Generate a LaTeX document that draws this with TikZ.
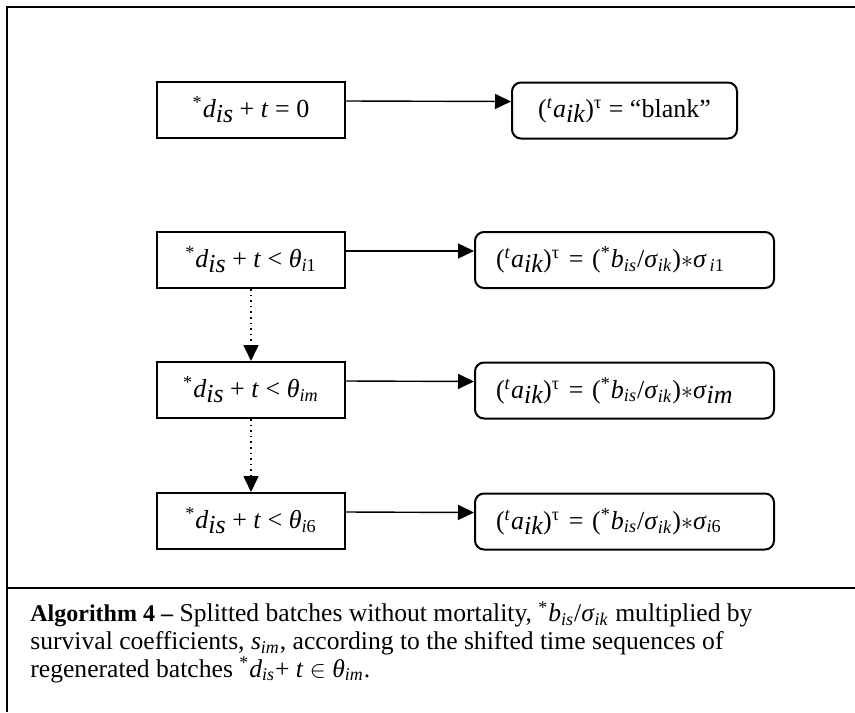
\documentclass[tikz,border=0pt]{standalone}
\usepackage{fontspec}
\setmainfont{Liberation Serif}
\usetikzlibrary{arrows.meta}
\newcommand{\Lsub}[1]{\raisebox{-0.45ex}{\textit{#1}}}
\newcommand{\ssub}[1]{\textsubscript{\textit{#1}}}
\newcommand{\ssup}[1]{\textsuperscript{#1}}
\newcommand{\lhs}{\ssup{*}\textit{d}\Lsub{is} + \textit{t}}
\newcommand{\aik}{(\ssup{\textit{t}}\textit{a}\Lsub{ik})\ssup{τ}}
\newcommand{\bsig}{(\ssup{*}\textit{b}\ssub{is}/\textit{σ}\ssub{ik})$\ast$\textit{σ}}
\begin{document}
\begin{tikzpicture}[x=0.5pt,y=-0.5pt,
  boxfont/.style={font=\fontsize{13}{15}\selectfont},
  cond/.style={draw,line width=1pt,minimum width=94pt,minimum height=28pt,inner sep=0pt,boxfont},
  res/.style={draw,line width=1pt,rounded corners=4.5pt,minimum height=28pt,inner sep=0pt,boxfont},
  reswide/.style={res,text width=128.5pt,inner xsep=10.5pt,align=left},
  arr/.style={line width=0.7pt,-{Triangle[length=8pt,width=7.5pt]}},
  darr/.style={line width=0.8pt,dotted,-{Triangle[length=8pt,width=7.5pt]}}]
\useasboundingbox (0,0) rectangle (855,712);
% frame
\draw[line width=1pt] (7,712) -- (7,7) -- (855,7);
\draw[line width=1pt] (7,588) -- (855,588);
% row 1
\node[cond] (r1) at (251,110) {\lhs{} = 0};
\node[res,minimum width=112.5pt] (q1) at (624.5,110.5) {\aik{} = “blank”};
% row 2
\node[cond] (r2) at (251,260) {\lhs{} < \textit{θ}\textsubscript{\textit{i}1}};
\node[reswide] (q2) at (624.5,260) {\aik{} = \bsig\textsubscript{\,\textit{i}1}};
% row 3
\node[cond] (r3) at (251,390) {\lhs{} < \textit{θ}\ssub{im}};
\node[reswide] (q3) at (624.5,390.5) {\aik{} = \bsig\Lsub{im}};
% row 4
\node[cond] (r4) at (251,521) {\lhs{} < \textit{θ}\textsubscript{\textit{i}6}};
\node[reswide] (q4) at (624.5,521.5) {\aik{} = \bsig\textsubscript{\textit{i}6}};
% connectors
\draw[arr] ([yshift=4.5pt]r1.east) -- ([yshift=4.5pt]q1.west);
\draw[arr] ([yshift=4.5pt]r2.east) -- ([yshift=4.5pt]q2.west);
\draw[arr] ([yshift=4.5pt]r3.east) -- ([yshift=4.5pt]q3.west);
\draw[arr] ([yshift=4.5pt]r4.east) -- ([yshift=4.5pt]q4.west);
\draw[darr] (r2.south) -- (r3.north);
\draw[darr] (r3.south) -- (r4.north);
% caption
\node[anchor=base west,align=left,inner sep=0pt,font=\fontsize{12.8}{13.8}\selectfont] (cap) at (30,677)
{{\fontsize{12}{13.8}\selectfont\textbf{Algorithm 4 –}} Splitted batches without mortality, \ssup{*}\textit{b}\ssub{is}/\textit{σ}\ssub{ik} multiplied by\\
survival coefficients, \textit{s}\ssub{im}, according to the shifted time sequences of\\
regenerated batches \ssup{*}\textit{d}\ssub{is}+ \textit{t} $\in$ \textit{θ}\ssub{im}.};
\end{tikzpicture}
\end{document}
